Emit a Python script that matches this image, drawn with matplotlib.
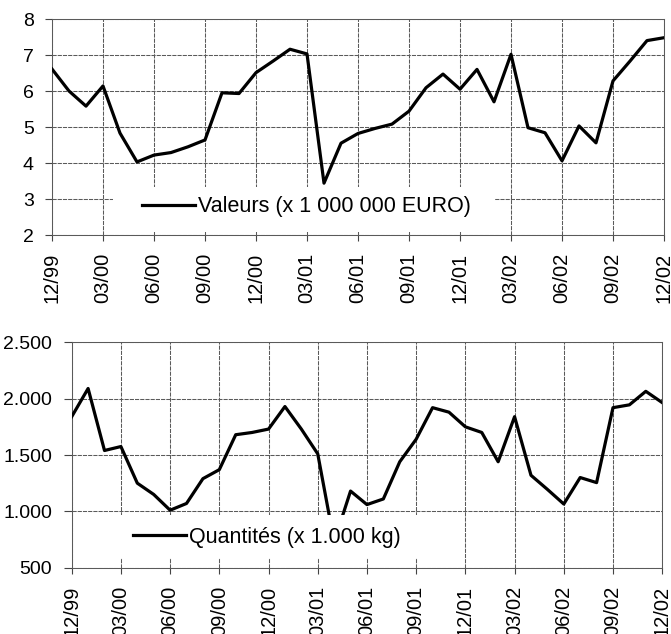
import matplotlib
matplotlib.use("Agg")
import matplotlib.pyplot as plt
from matplotlib.patches import Rectangle
from matplotlib.ticker import FuncFormatter

plt.rcParams['font.family'] = ['Liberation Sans', 'DejaVu Sans']

# ---- data ----
tick_labels = ["12/99", "03/00", "06/00", "09/00", "12/00", "03/01", "06/01",
               "09/01", "12/01", "03/02", "06/02", "09/02", "12/02"]
valeurs = [6.61, 6.00, 5.58, 6.14, 4.83, 4.03, 4.22, 4.29, 4.45, 4.64, 5.95, 5.93,
           6.51, 6.83, 7.16, 7.03, 3.44, 4.55, 4.82, 4.96, 5.08, 5.44, 6.09, 6.47,
           6.05, 6.60, 5.70, 7.02, 4.98, 4.84, 4.06, 5.03, 4.56, 6.28, 6.83, 7.40, 7.48]
quantites = [1840, 2090, 1540, 1575, 1250, 1150, 1010, 1070, 1290, 1370, 1680, 1700,
             1730, 1930, 1730, 1510, 730, 1180, 1060, 1110, 1440, 1640, 1920, 1880,
             1750, 1700, 1440, 1840, 1320, 1195, 1065, 1300, 1255, 1920, 1945, 2065, 1965]
label_top = "Valeurs (x 1 000 000 EURO)"
label_bot = "Quantités (x 1.000 kg)"

months = list(range(len(valeurs)))
tick_pos = list(range(0, len(valeurs), 3))

W, H = 671, 634
fig = plt.figure(figsize=(W / 100, H / 100), dpi=100)

grid_kw = dict(color='#5a5a5a', linewidth=0.75, linestyle=(0, (4, 1)))


def style_axes(ax, ylim, yticks, yfmt, ytick_len):
    ax.set_xlim(0, len(valeurs) - 1)
    ax.set_ylim(*ylim)
    ax.set_xticks(tick_pos)
    ax.set_xticklabels(tick_labels, rotation=90, fontsize=14.5)
    ax.set_yticks(yticks)
    ax.yaxis.set_major_formatter(FuncFormatter(yfmt))
    ax.tick_params(axis='y', labelsize=14, length=ytick_len, width=0.8,
                   color='#444444', pad=8)
    ax.tick_params(axis='x', length=4, width=0.8, color='#444444', pad=9)
    ax.grid(True, **grid_kw)
    ax.set_axisbelow(True)
    for s in ax.spines.values():
        s.set_color('#5a5a5a')
        s.set_linewidth(0.75)
        s.set_linestyle((0, (4, 1)))


# ---- top chart ----
ax1 = fig.add_axes([52 / W, 1 - 235 / H, 612 / W, 216 / H])
ax1.plot(months, valeurs, color='black', linewidth=2.3, label=label_top, zorder=3)
style_axes(ax1, (2, 8), range(2, 9), lambda v, p: f"{int(v)}", 5)
ax1.add_patch(Rectangle((0.0997, 0.014), 0.624, 0.208, transform=ax1.transAxes,
                        facecolor='white', edgecolor='none', zorder=4.5))
ax1.legend(loc='center left', bbox_to_anchor=(0.147, 0.13), frameon=False,
           fontsize=15.5, borderpad=0, borderaxespad=0, handlelength=2.45,
           handletextpad=0.15)

# ---- bottom chart ----
ax2 = fig.add_axes([71.7 / W, 1 - 567.7 / H, 590.5 / W, 225.4 / H])
ax2.plot(months, quantites, color='black', linewidth=2.3, label=label_bot, zorder=3)
style_axes(ax2, (500, 2500), range(500, 2501, 500),
           lambda v, p: f"{int(v):,}".replace(",", "."), 6)
ax2.add_patch(Rectangle((0.055, 0.043), 0.547, 0.191, transform=ax2.transAxes,
                        facecolor='white', edgecolor='none', zorder=4.5))
ax2.legend(loc='center left', bbox_to_anchor=(0.104, 0.136), frameon=False,
           fontsize=15.5, borderpad=0, borderaxespad=0, handlelength=2.45,
           handletextpad=0.15)

fig.savefig("out.png", dpi=100)
